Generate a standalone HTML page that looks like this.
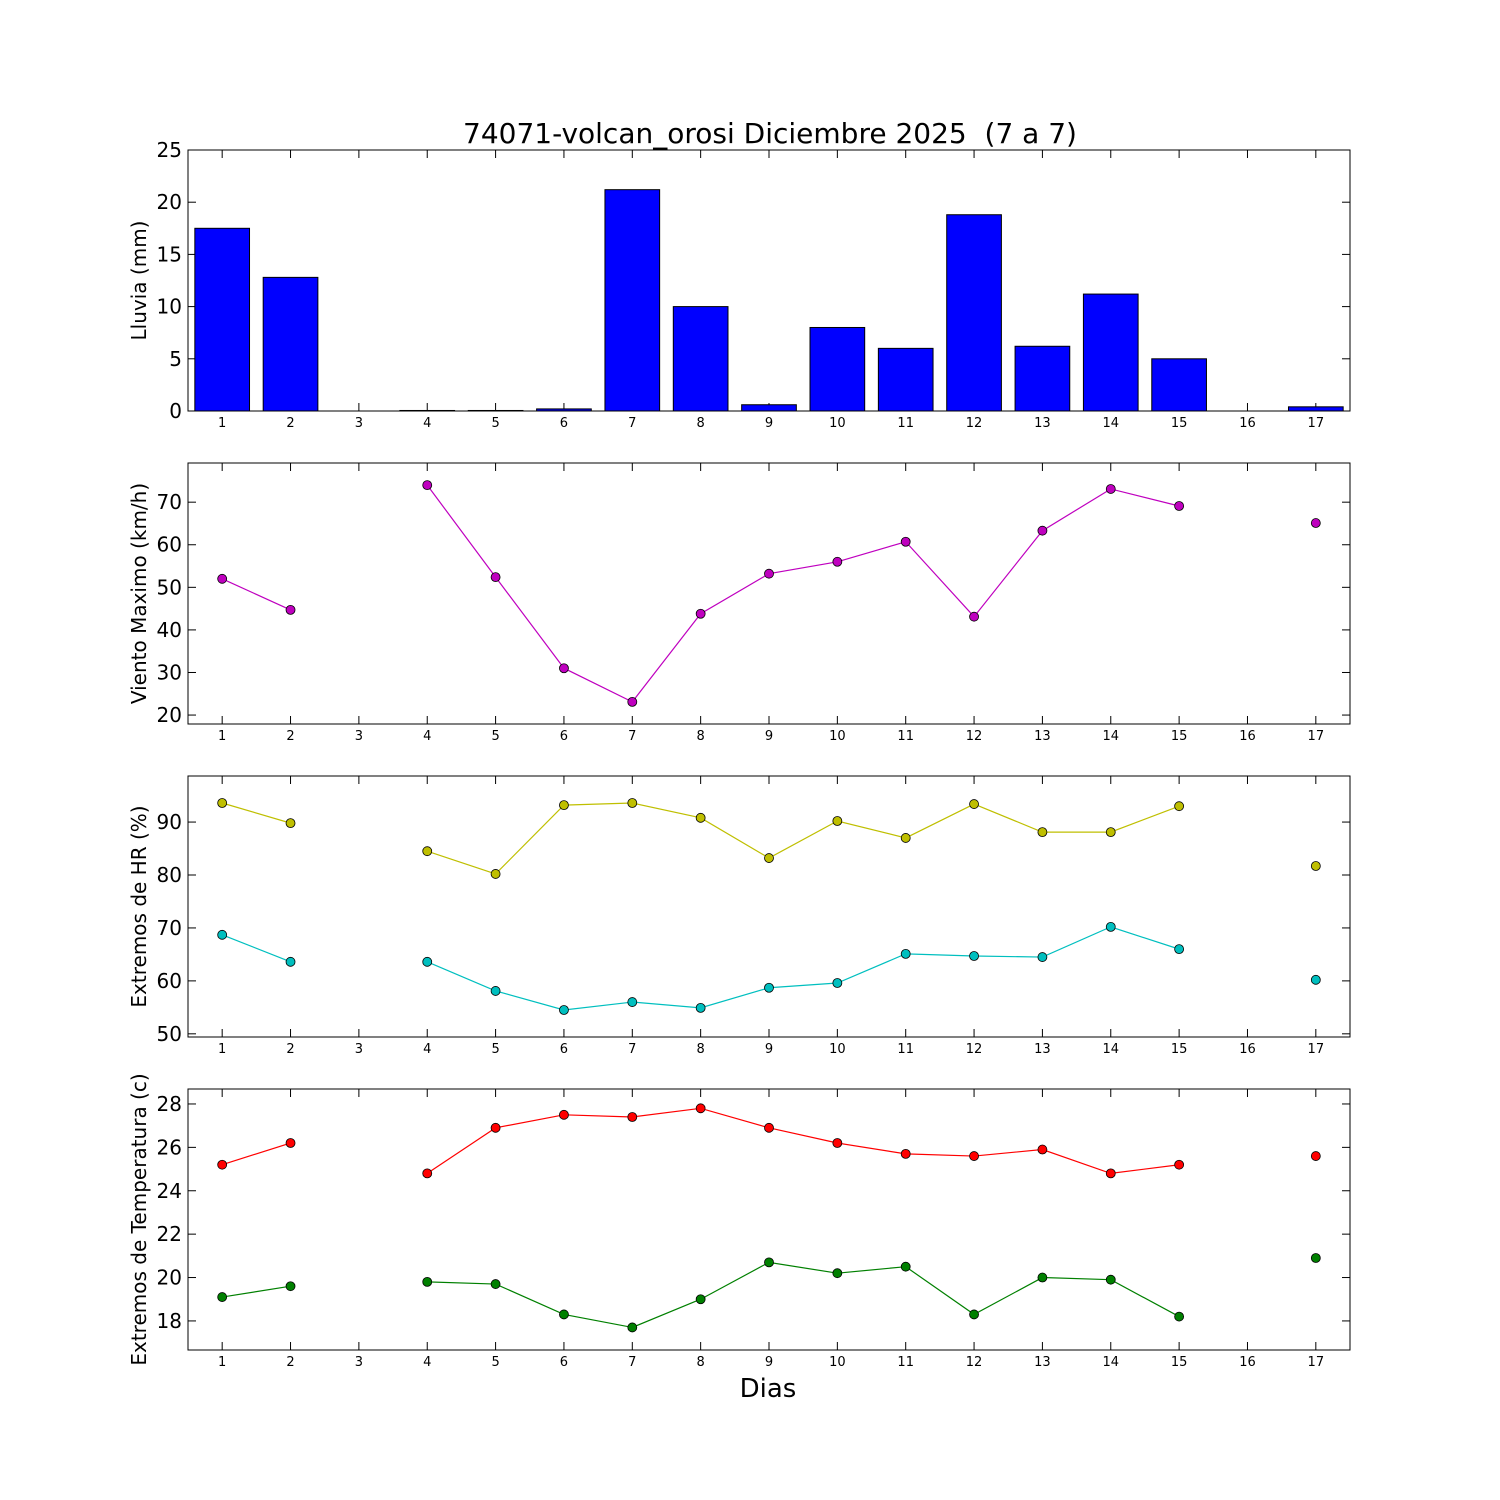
<!DOCTYPE html>
<html><head><meta charset="utf-8">
<style>
html,body{margin:0;padding:0;background:#fff;}
svg{display:block;font-family:"DejaVu Sans","Liberation Sans",sans-serif;}
</style></head>
<body>
<svg id="chart" width="1500" height="1500" viewBox="0 0 1500 1500" xmlns="http://www.w3.org/2000/svg">
<rect width="1500" height="1500" fill="#fff"/>
<text x="770" y="143" font-size="28" text-anchor="middle" xml:space="preserve" style="white-space:pre">74071-volcan_orosi Diciembre 2025  (7 a 7)</text>
<text x="768" y="1397" font-size="26" text-anchor="middle">Dias</text>
</svg>
<script>
const days = [1,2,3,4,5,6,7,8,9,10,11,12,13,14,15,16,17];
const rain = [17.5,12.8,0,0.05,0.05,0.2,21.2,10.0,0.6,8.0,6.0,18.8,6.2,11.2,5.0,0,0.4];
const wind = [52.0,44.7,null,74.0,52.4,31.0,23.1,43.8,53.2,56.0,60.7,43.1,63.3,73.1,69.1,null,65.1];
const hrMax = [93.6,89.8,null,84.5,80.2,93.2,93.6,90.8,83.2,90.2,87.0,93.4,88.1,88.1,93.0,null,81.7];
const hrMin = [68.7,63.6,null,63.6,58.1,54.5,56.0,54.9,58.7,59.6,65.1,64.7,64.5,70.2,66.0,null,60.2];
const tMax = [25.2,26.2,null,24.8,26.9,27.5,27.4,27.8,26.9,26.2,25.7,25.6,25.9,24.8,25.2,null,25.6];
const tMin = [19.1,19.6,null,19.8,19.7,18.3,17.7,19.0,20.7,20.2,20.5,18.3,20.0,19.9,18.2,null,20.9];
const rainTicks = [0,5,10,15,20,25];
const windTicks = [20,30,40,50,60,70];
const hrTicks = [50,60,70,80,90];
const tTicks = [18,20,22,24,26,28];

const NS="http://www.w3.org/2000/svg";
const svg=document.getElementById('chart');
const X0=188,X1=1350;
function xs(d){return X0+(d-0.5)/17*(X1-X0);}
function mk(tag,attrs,parent){const e=document.createElementNS(NS,tag);for(const k in attrs)e.setAttribute(k,attrs[k]);(parent||svg).appendChild(e);return e;}

function panel(top,ymin,ymax,ticks,label,name){
  const bot=top+261;
  const ys=v=>bot-(v-ymin)/(ymax-ymin)*(bot-top);
  const g=mk('g',{});
  
  
  days.forEach(d=>{
    const x=xs(d);
    mk('line',{x1:x,x2:x,y1:bot,y2:bot-8,stroke:'#000','stroke-width':1},g);
    mk('line',{x1:x,x2:x,y1:top,y2:top+8,stroke:'#000','stroke-width':1},g);
    const t=mk('text',{x:x,y:bot+16,'font-size':13,'text-anchor':'middle'},g);
    t.textContent=d;
    
    
  });
  ticks.forEach(v=>{
    const y=ys(v);
    mk('line',{x1:X0,x2:X0+8,y1:y,y2:y,stroke:'#000','stroke-width':1},g);
    mk('line',{x1:X1,x2:X1-8,y1:y,y2:y,stroke:'#000','stroke-width':1},g);
    const t=mk('text',{x:X0-6,y:y+7,'font-size':20,'text-anchor':'end'},g);
    t.textContent=v;
    
    
  });
  const yl=mk('text',{x:0,y:0,'font-size':20,'text-anchor':'middle',transform:`translate(146,${(top+bot)/2}) rotate(-90)`},g);
  yl.textContent=label;
  
  
  return {g,ys,top,bot};
}
function frame(p){mk('rect',{x:X0,y:p.top,width:X1-X0,height:p.bot-p.top,fill:'none',stroke:'#000','stroke-width':1},p.g);}
function series(p,vals,color,name){
  let seg=[];
  const segs=[];
  vals.forEach((v,i)=>{ if(v==null){if(seg.length)segs.push(seg);seg=[];} else seg.push([xs(days[i]),p.ys(v)]); });
  if(seg.length)segs.push(seg);
  segs.forEach(s=>{ if(s.length>1){
    const l=mk('polyline',{points:s.map(a=>a.join(',')).join(' '),fill:'none',stroke:color,'stroke-width':1.2},p.g);
    
    
  }});
  vals.forEach((v,i)=>{ if(v==null)return;
    const c=mk('circle',{cx:xs(days[i]),cy:p.ys(v),r:4.5,fill:color,stroke:'#000','stroke-width':0.8},p.g);
    
    
  });
}

const p1=panel(150,0,25,rainTicks,'Lluvia (mm)','rain');
const bw=0.8*(X1-X0)/17;
rain.forEach((v,i)=>{
  const y=p1.ys(v);
  const r=mk('rect',{x:xs(days[i])-bw/2,y:y,width:bw,height:p1.bot-y,fill:'#0000ff',stroke:'#000','stroke-width':1},p1.g);
  
  
});
frame(p1);

const p2=panel(463,17.9,79.2,windTicks,'Viento Maximo (km/h)','wind');
series(p2,wind,'#bf00bf','wind');
frame(p2);

const p3=panel(776,49.4,98.7,hrTicks,'Extremos de HR (%)','humidity');
series(p3,hrMax,'#bfbf00','hr-max');
series(p3,hrMin,'#00bfbf','hr-min');
frame(p3);

const p4=panel(1089,16.66,28.69,tTicks,'Extremos de Temperatura (c)','temperature');
series(p4,tMax,'#ff0000','temp-max');
series(p4,tMin,'#008000','temp-min');
frame(p4);
</script>
</body></html>
